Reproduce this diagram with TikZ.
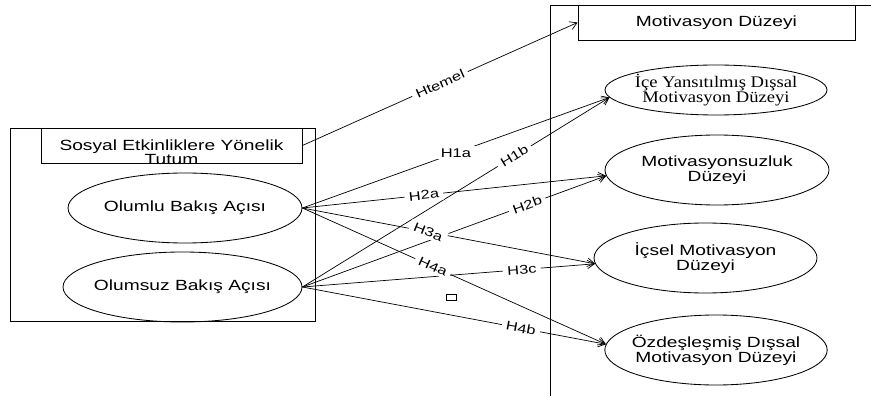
\documentclass[tikz,border=0pt]{standalone}
\usepackage{fontspec}
\setmainfont{Liberation Sans}[FakeStretch=1.3]
\newfontfamily\serifyazi{Liberation Serif}[FakeStretch=1.15]
\usetikzlibrary{shapes,arrows.meta}

\begin{document}
\begin{tikzpicture}
    \tikzset{kutu/.style={draw,rectangle,inner sep=0pt,line width=0.6pt,font=\fontsize{10.5}{10}\selectfont},elips/.style={draw,ellipse,inner sep=0pt,inner xsep=-4pt,line width=0.6pt,align=center,font=\fontsize{10.5}{9.5}\selectfont},etiket/.style={fill=white,inner sep=1.5pt,inner xsep=3pt,font=\fontsize{9}{10}\selectfont}}
    \tikzstyle{ok}=[-{Straight Barb[length=5pt,width=6pt]},line width=0.5pt]
    \useasboundingbox (0,0) rectangle (21.775,9.9);

    \node[kutu,minimum width=7.625cm,minimum height=4.825cm] (SOL) at (4.0625,4.2875) {};
    \node[kutu,minimum width=6.525cm,minimum height=0.875cm] (TUT) at (4.2875,6.2625) {};
    \node[align=center,inner sep=0pt,font=\fontsize{10.5}{10}\selectfont] (TUTY) at (4.2875,6.09) {Sosyal Etkinliklere Yönelik\\Tutum};
    \node[elips,minimum width=5.85cm,minimum height=1.75cm] (OLU) at (4.625,4.7) {Olumlu Bakış Açısı};
    \node[elips,minimum width=5.975cm,minimum height=1.75cm] (OLS) at (4.5625,2.725) {Olumsuz Bakış Açısı};

    \draw[line width=0.6pt] (13.75,0) -- (13.75,9.775) -- (21.775,9.775);
    \node[kutu,minimum width=6.925cm,minimum height=0.875cm] (MOT) at (17.9125,9.3375) {Motivasyon Düzeyi};
    \node[elips,minimum width=5.55cm,minimum height=1.25cm,font=\serifyazi\fontsize{11.5}{9.5}\selectfont] (ICE) at (17.9,7.65) {İçe Yansıtılmış Dışsal\\Motivasyon Düzeyi};
    \node[elips,minimum width=5.6cm,minimum height=1.75cm] (MSZ) at (17.925,5.65) {Motivasyonsuzluk\\Düzeyi};
    \node[elips,minimum width=5.575cm,minimum height=1.75cm] (ICS) at (17.6375,3.45) {İçsel Motivasyon\\Düzeyi};
    \node[elips,minimum width=5.55cm,minimum height=1.75cm] (OZD) at (17.9,1.15) {Özdeşleşmiş Dışsal\\Motivasyon Düzeyi};
    \node[kutu,minimum width=0.25cm,minimum height=0.15cm] (KARE) at (11.275,2.475) {};

    \draw[ok] (TUT.east) -- (MOT.west);
    \draw[ok] (OLU.east) -- (ICE.184);
    \draw[ok] (OLS.east) -- (ICE.184);
    \draw[ok] (OLU.east) -- (MSZ.183);
    \draw[ok] (OLS.east) -- (MSZ.183);
    \draw[ok] (OLU.east) -- (ICS.183);
    \draw[ok] (OLS.east) -- (ICS.183);
    \draw[ok] (OLU.east) -- (OZD.177);
    \draw[ok] (OLS.east) -- (OZD.177);

    \path (TUT.east) -- node[etiket,sloped] {Htemel} (MOT.west);
    \path (OLU.east) -- node[etiket] {H1a} (ICE.184);
    \path (OLS.east) -- node[etiket,sloped,pos=0.69] {H1b} (ICE.184);
    \path (OLU.east) -- node[etiket,sloped,pos=0.4] {H2a} (MSZ.183);
    \path (OLS.east) -- node[etiket,sloped,pos=0.74] {H2b} (MSZ.183);
    \path (OLU.east) -- node[etiket,rotate=-22,pos=0.43] {H3a} (ICS.183);
    \path (OLS.east) -- node[etiket,sloped,pos=0.75] {H3c} (ICS.183);
    \path (OLU.east) -- node[etiket,sloped,pos=0.43] {H4a} (OZD.177);
    \path (OLS.east) -- node[etiket,sloped,pos=0.72] {H4b} (OZD.177);
  \end{tikzpicture}
\end{document}
